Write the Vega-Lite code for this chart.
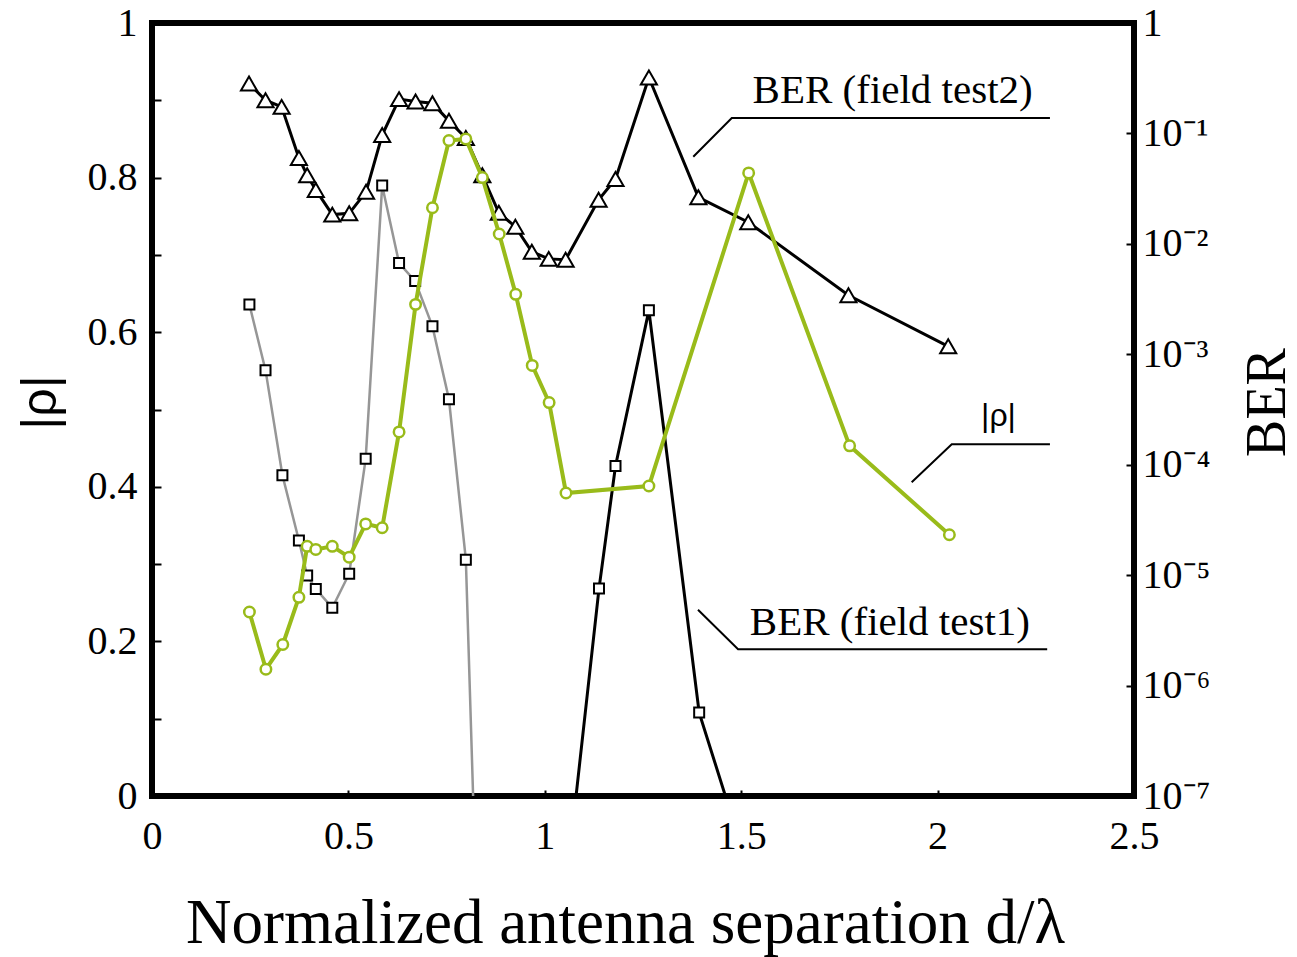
{
  "$schema": "https://vega.github.io/schema/vega-lite/v6.json",
  "width": 982,
  "height": 773,
  "autosize": {"type": "none"},
  "padding": {"left": 152, "top": 23, "right": 163, "bottom": 161},
  "background": "white",
  "config": {
    "view": {"stroke": "black", "strokeWidth": 6},
    "font": "Liberation Serif",
    "axis": {"grid": false, "domain": false, "labelColor": "black", "titleColor": "black", "tickColor": "black", "titleFontWeight": "normal", "labelOverlap": false, "labelFlush": false, "labelBound": false}
  },
  "datasets": {
    "rho": [
      {"x": 0.248, "rho": 0.238}, {"x": 0.290, "rho": 0.164}, {"x": 0.333, "rho": 0.196},
      {"x": 0.374, "rho": 0.257}, {"x": 0.395, "rho": 0.323}, {"x": 0.417, "rho": 0.319},
      {"x": 0.459, "rho": 0.323}, {"x": 0.502, "rho": 0.309}, {"x": 0.544, "rho": 0.352},
      {"x": 0.586, "rho": 0.347}, {"x": 0.629, "rho": 0.471}, {"x": 0.671, "rho": 0.636},
      {"x": 0.714, "rho": 0.761}, {"x": 0.756, "rho": 0.848}, {"x": 0.799, "rho": 0.850},
      {"x": 0.841, "rho": 0.800}, {"x": 0.884, "rho": 0.727}, {"x": 0.926, "rho": 0.649},
      {"x": 0.968, "rho": 0.557}, {"x": 1.011, "rho": 0.509}, {"x": 1.054, "rho": 0.392},
      {"x": 1.265, "rho": 0.401}, {"x": 1.519, "rho": 0.806}, {"x": 1.776, "rho": 0.453},
      {"x": 2.030, "rho": 0.338}
    ],
    "ber2": [
      {"x": 0.247, "ber": 0.283}, {"x": 0.289, "ber": 0.200}, {"x": 0.330, "ber": 0.174},
      {"x": 0.374, "ber": 0.060}, {"x": 0.395, "ber": 0.0418}, {"x": 0.417, "ber": 0.0308},
      {"x": 0.459, "ber": 0.0184}, {"x": 0.502, "ber": 0.0189}, {"x": 0.545, "ber": 0.0296},
      {"x": 0.586, "ber": 0.0968}, {"x": 0.629, "ber": 0.2045}, {"x": 0.671, "ber": 0.1945},
      {"x": 0.714, "ber": 0.188}, {"x": 0.756, "ber": 0.130}, {"x": 0.799, "ber": 0.0908},
      {"x": 0.841, "ber": 0.0418}, {"x": 0.883, "ber": 0.0191}, {"x": 0.925, "ber": 0.0143},
      {"x": 0.967, "ber": 0.00849}, {"x": 1.010, "ber": 0.00731}, {"x": 1.053, "ber": 0.00718},
      {"x": 1.137, "ber": 0.0251}, {"x": 1.180, "ber": 0.0387}, {"x": 1.265, "ber": 0.321},
      {"x": 1.391, "ber": 0.0264}, {"x": 1.518, "ber": 0.0157}, {"x": 1.773, "ber": 0.00342},
      {"x": 2.027, "ber": 0.00118}
    ],
    "ber1gray": [
      {"x": 0.248, "ber": 0.00282}, {"x": 0.289, "ber": 0.000718}, {"x": 0.332, "ber": 0.0000804},
      {"x": 0.374, "ber": 0.0000206}, {"x": 0.395, "ber": 0.0000099}, {"x": 0.417, "ber": 0.0000075},
      {"x": 0.459, "ber": 0.00000506}, {"x": 0.502, "ber": 0.0000103}, {"x": 0.544, "ber": 0.000113},
      {"x": 0.586, "ber": 0.0337}, {"x": 0.629, "ber": 0.0067}, {"x": 0.670, "ber": 0.0046},
      {"x": 0.714, "ber": 0.00179}, {"x": 0.756, "ber": 0.000391}, {"x": 0.799, "ber": 0.0000138},
      {"x": 0.841, "ber": 1.9e-10}
    ],
    "ber1black": [
      {"x": 1.053, "ber": 1.4e-8}, {"x": 1.138, "ber": 0.00000755}, {"x": 1.180, "ber": 0.0000975},
      {"x": 1.265, "ber": 0.0025}, {"x": 1.393, "ber": 0.000000569}, {"x": 1.518, "ber": 2.2e-8}
    ],
    "leaders": [
      {"id": "t2", "o": 1, "x": 1.378, "rho": 0.827}, {"id": "t2", "o": 2, "x": 1.476, "rho": 0.877}, {"id": "t2", "o": 3, "x": 2.286, "rho": 0.877},
      {"id": "r", "o": 1, "x": 1.934, "rho": 0.406}, {"id": "r", "o": 2, "x": 2.036, "rho": 0.455}, {"id": "r", "o": 3, "x": 2.286, "rho": 0.455},
      {"id": "t1", "o": 1, "x": 1.390, "rho": 0.241}, {"id": "t1", "o": 2, "x": 1.492, "rho": 0.190}, {"id": "t1", "o": 3, "x": 2.279, "rho": 0.190}
    ],
    "notes": [
      {"x": 1.529, "rho": 0.896, "text": "BER (field test2)", "kind": "serif"},
      {"x": 1.522, "rho": 0.208, "text": "BER (field test1)", "kind": "serif"},
      {"x": 2.155, "rho": 0.479, "text": "|ρ|", "kind": "sans"}
    ]
  },
  "layer": [
    {
      "layer": [
        {
          "data": {"name": "ber1gray"},
          "mark": {"type": "line", "color": "#969696", "strokeWidth": 2.5, "clip": true},
          "encoding": {
            "x": {"field": "x", "type": "quantitative", "scale": {"domain": [0, 2.5], "nice": false, "zero": false},
              "axis": {"orient": "bottom", "values": [0, 0.5, 1, 1.5, 2, 2.5], "format": "~g", "labelFont": "Liberation Serif", "labelFontSize": 40, "labelPadding": 26, "tickSize": -6, "tickWidth": 2,
                "title": "Normalized antenna separation d/λ", "titleFont": "Liberation Serif", "titleFontSize": 63, "titleX": 473, "titleY": 146, "titleBaseline": "alphabetic", "titleAlign": "center"}},
            "y": {"field": "ber", "type": "quantitative", "scale": {"type": "log", "domain": [1e-7, 1], "nice": false, "zero": false},
              "axis": {"orient": "right", "values": [1e-7, 1e-6, 1e-5, 1e-4, 1e-3, 1e-2, 1e-1, 1],
                "labelExpr": "['1','10⁻¹','10⁻²','10⁻³','10⁻⁴','10⁻⁵','10⁻⁶','10⁻⁷'][-round(log(datum.value)/LN10)]",
                "labelFont": "Liberation Serif", "labelFontSize": 40, "labelPadding": 16, "tickSize": -8, "tickWidth": 2,
                "title": "BER", "titleFont": "Liberation Serif", "titleFontSize": 56, "titleAngle": 270, "titleX": 133, "titleY": 379, "titleAlign": "center", "titleBaseline": "middle"}}
          }
        },
        {
          "data": {"name": "ber1gray"},
          "mark": {"type": "point", "shape": "square", "filled": true, "fill": "white", "stroke": "black", "strokeWidth": 2, "size": 100, "opacity": 1, "clip": true},
          "encoding": {
            "x": {"field": "x", "type": "quantitative"},
            "y": {"field": "ber", "type": "quantitative"}
          }
        },
        {
          "data": {"name": "ber1black"},
          "mark": {"type": "line", "color": "black", "strokeWidth": 3, "clip": true},
          "encoding": {
            "x": {"field": "x", "type": "quantitative"},
            "y": {"field": "ber", "type": "quantitative"}
          }
        },
        {
          "data": {"name": "ber1black"},
          "mark": {"type": "point", "shape": "square", "filled": true, "fill": "white", "stroke": "black", "strokeWidth": 2, "size": 100, "opacity": 1, "clip": true},
          "encoding": {
            "x": {"field": "x", "type": "quantitative"},
            "y": {"field": "ber", "type": "quantitative"}
          }
        },
        {
          "data": {"name": "ber2"},
          "mark": {"type": "line", "color": "black", "strokeWidth": 3, "clip": true},
          "encoding": {
            "x": {"field": "x", "type": "quantitative"},
            "y": {"field": "ber", "type": "quantitative"}
          }
        },
        {
          "data": {"name": "ber2"},
          "mark": {"type": "point", "shape": "triangle-up", "filled": true, "fill": "white", "stroke": "black", "strokeWidth": 2, "size": 260, "opacity": 1, "clip": true},
          "encoding": {
            "x": {"field": "x", "type": "quantitative"},
            "y": {"field": "ber", "type": "quantitative"}
          }
        }
      ]
    },
    {
      "layer": [
        {
          "data": {"name": "rho"},
          "mark": {"type": "line", "color": "#99BB1A", "strokeWidth": 4},
          "encoding": {
            "x": {"field": "x", "type": "quantitative"},
            "y": {"field": "rho", "type": "quantitative", "scale": {"domain": [0, 1], "nice": false, "zero": false},
              "axis": {"orient": "left", "values": [0, 0.1, 0.2, 0.3, 0.4, 0.5, 0.6, 0.7, 0.8, 0.9, 1],
                "labelExpr": "round(datum.value*10)%2==0 ? format(datum.value, '~g') : ''",
                "labelFont": "Liberation Serif", "labelFontSize": 40, "labelPadding": 24, "tickSize": -9, "tickWidth": 2,
                "title": "|ρ|", "titleFont": "Liberation Sans", "titleFontSize": 50, "titleAngle": 270, "titleX": -112, "titleY": 379, "titleAlign": "center", "titleBaseline": "middle"}}
          }
        },
        {
          "data": {"name": "rho"},
          "mark": {"type": "point", "shape": "circle", "filled": true, "fill": "white", "stroke": "#99BB1A", "strokeWidth": 2.5, "size": 110, "opacity": 1},
          "encoding": {
            "x": {"field": "x", "type": "quantitative"},
            "y": {"field": "rho", "type": "quantitative"}
          }
        },
        {
          "data": {"name": "leaders"},
          "mark": {"type": "line", "color": "black", "strokeWidth": 2},
          "encoding": {
            "x": {"field": "x", "type": "quantitative"},
            "y": {"field": "rho", "type": "quantitative"},
            "detail": {"field": "id", "type": "nominal"},
            "order": {"field": "o", "type": "quantitative"}
          }
        },
        {
          "data": {"name": "notes"},
          "transform": [{"filter": "datum.kind == 'serif'"}],
          "mark": {"type": "text", "font": "Liberation Serif", "fontSize": 41, "align": "left", "baseline": "alphabetic", "color": "black"},
          "encoding": {
            "x": {"field": "x", "type": "quantitative"},
            "y": {"field": "rho", "type": "quantitative"},
            "text": {"field": "text", "type": "nominal"}
          }
        },
        {
          "data": {"name": "notes"},
          "transform": [{"filter": "datum.kind == 'sans'"}],
          "mark": {"type": "text", "font": "Liberation Sans", "fontSize": 32, "align": "center", "baseline": "alphabetic", "color": "black"},
          "encoding": {
            "x": {"field": "x", "type": "quantitative"},
            "y": {"field": "rho", "type": "quantitative"},
            "text": {"field": "text", "type": "nominal"}
          }
        }
      ]
    }
  ],
  "resolve": {"scale": {"y": "independent"}, "axis": {"y": "independent"}}
}
